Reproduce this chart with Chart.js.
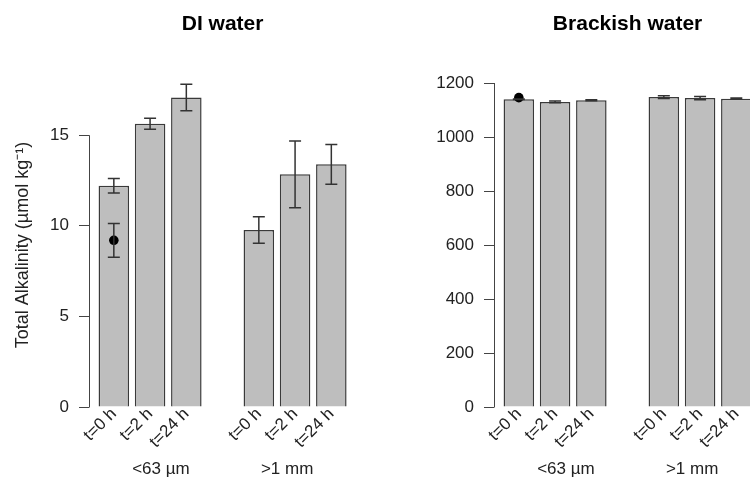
<!DOCTYPE html>
<html><head><meta charset="utf-8">
<script src="https://cdn.jsdelivr.net/npm/chart.js@4"></script>
<style>
html,body{margin:0;padding:0;overflow:hidden;background:#fff;width:750px;height:477px}
.panel{position:absolute;top:0;width:405px;height:477px}
</style></head><body>
<div class="panel" style="left:0"><canvas id="c1" width="405" height="477"></canvas></div>
<div class="panel" style="left:405px"><canvas id="c2" width="405" height="477"></canvas></div>
<script>
// ---- data ----
const timeLabels = ['t=0 h', 't=2 h', 't=24 h'];
const sizeGroups = ['<63 µm', '>1 mm'];
const panelTitles = ['DI water', 'Brackish water'];
const yAxisTitle = 'Total Alkalinity (µmol kg⁻¹)';

const diMeans = [12.21, 15.63, 17.08, 9.77, 12.84, 13.39];
const diErrors = [0.40, 0.30, 0.73, 0.73, 1.84, 1.10];
const diPointMean = [9.2];
const diPointError = [0.93];
const diTicks = [0, 5, 10, 15];

const brackishMeans = [1139.7, 1130, 1136, 1148, 1144, 1142];
const brackishErrors = [1, 3, 2, 5, 6, 2];
const brackishPointMean = [1146];
const brackishPointError = [0];
const brackishTicks = [0, 200, 400, 600, 800, 1000, 1200];

// ---- layout helpers ----
const FONT = '"Liberation Sans", Arial, sans-serif';
const slotsPerGroup = timeLabels.length + 1;
const slots = sizeGroups.flatMap((g, gi) => timeLabels.map((t, ti) => gi * slotsPerGroup + ti));
const slotLabels = sizeGroups.flatMap(() => timeLabels);
const groupLabelShift = [0.3, -0.22];

const extrasPlugin = {
  id: 'extras',
  afterDatasetsDraw(chart, args, opts) {
    const ctx = chart.ctx;
    const xs = chart.scales.x, ys = chart.scales.y;
    ctx.save();
    // y axis line spanning tick range
    const tks = ys.ticks.map(t => t.value);
    ctx.strokeStyle = '#444'; ctx.lineWidth = 1;
    ctx.beginPath();
    ctx.moveTo(chart.chartArea.left + 0.5, ys.getPixelForValue(Math.min(...tks)) + 0.5);
    ctx.lineTo(chart.chartArea.left + 0.5, ys.getPixelForValue(Math.max(...tks)));
    ctx.stroke();
    // error bars
    ctx.strokeStyle = '#333'; ctx.lineWidth = 1.5;
    chart.data.datasets.forEach((ds, di) => {
      if (!ds.errors) return;
      const meta = chart.getDatasetMeta(di);
      meta.data.forEach((el, i) => {
        const v = ds.data[i].y;
        const e = ds.errors[i];
        if (!e) return;
        const x = el.x;
        const yt = ys.getPixelForValue(v + e), yb = ys.getPixelForValue(v - e);
        ctx.beginPath();
        ctx.moveTo(x, yt); ctx.lineTo(x, yb);
        ctx.moveTo(x - 6, yt); ctx.lineTo(x + 6, yt);
        ctx.moveTo(x - 6, yb); ctx.lineTo(x + 6, yb);
        ctx.stroke();
      });
    });
    // panel title
    const mid = xs.getPixelForValue((slots[0] + slots[slots.length - 1]) / 2);
    ctx.fillStyle = '#000';
    ctx.font = 'bold 21px ' + FONT;
    ctx.textAlign = 'center'; ctx.textBaseline = 'alphabetic';
    ctx.fillText(opts.title, mid, 30);
    // group labels
    ctx.font = '17px ' + FONT;
    ctx.fillStyle = '#222';
    ctx.textBaseline = 'middle';
    sizeGroups.forEach((g, gi) => {
      const c = gi * slotsPerGroup + (timeLabels.length - 1) / 2 + groupLabelShift[gi];
      ctx.fillText(g, xs.getPixelForValue(c), 469);
    });
    ctx.restore();
  }
};

function makePanel(id, title, means, errors, pMean, pErr, ticks, yMax, showTitle) {
  return new Chart(document.getElementById(id), {
    type: 'bar',
    data: {
      datasets: [
        {
          type: 'scatter',
          data: pMean.map((v, i) => ({ x: slots[i], y: v })),
          errors: pErr,
          pointRadius: 4.8,
          pointBackgroundColor: '#000',
          pointBorderColor: '#000',
          pointBorderWidth: 0,
          clip: false,
          order: 0
        },
        {
          type: 'bar',
          data: means.map((v, i) => ({ x: slots[i], y: v })),
          errors: errors,
          backgroundColor: '#bebebe',
          borderColor: '#3a3a3a',
          borderWidth: 1.5,
          barPercentage: 0.842,
          categoryPercentage: 1,
          clip: false,
          order: 1
        }
      ]
    },
    options: {
      responsive: false,
      animation: false,
      devicePixelRatio: 1,
      layout: { padding: { top: 83, left: 0, right: 0, bottom: 0 } },
      plugins: {
        legend: { display: false },
        tooltip: { enabled: false },
        extras: { title: title }
      },
      scales: {
        x: {
          type: 'linear',
          offset: false,
          min: -0.685,
          max: 7.9,
          grid: { display: false, drawTicks: false },
          border: { display: false },
          afterBuildTicks: s => { s.ticks = slots.map(v => ({ value: v })); },
          afterFit: s => { s.height = 70; },
          ticks: {
            autoSkip: false,
            minRotation: 45,
            maxRotation: 45,
            padding: -3,
            color: '#222',
            font: { size: 17, family: FONT },
            callback: (v, i) => slotLabels[i]
          }
        },
        y: {
          min: 0,
          max: yMax,
          afterBuildTicks: s => { s.ticks = ticks.map(v => ({ value: v })); },
          afterFit: s => { s.width = 89; },
          border: { display: false },
          grid: { drawOnChartArea: false, drawTicks: true, tickLength: 10, color: '#444', lineWidth: 1 },
          ticks: { padding: 10, color: '#222', font: { size: 17, family: FONT }, callback: v => String(v) },
          title: {
            display: showTitle,
            text: yAxisTitle,
            color: '#222',
            font: { size: 18, family: FONT },
            padding: { top: 12, bottom: 0 }
          }
        }
      }
    },
    plugins: [extrasPlugin]
  });
}

makePanel('c1', panelTitles[0], diMeans, diErrors, diPointMean, diPointError, diTicks, 17.88, true);
makePanel('c2', panelTitles[1], brackishMeans, brackishErrors, brackishPointMean, brackishPointError, brackishTicks, 1200, false);
</script>
</body></html>
